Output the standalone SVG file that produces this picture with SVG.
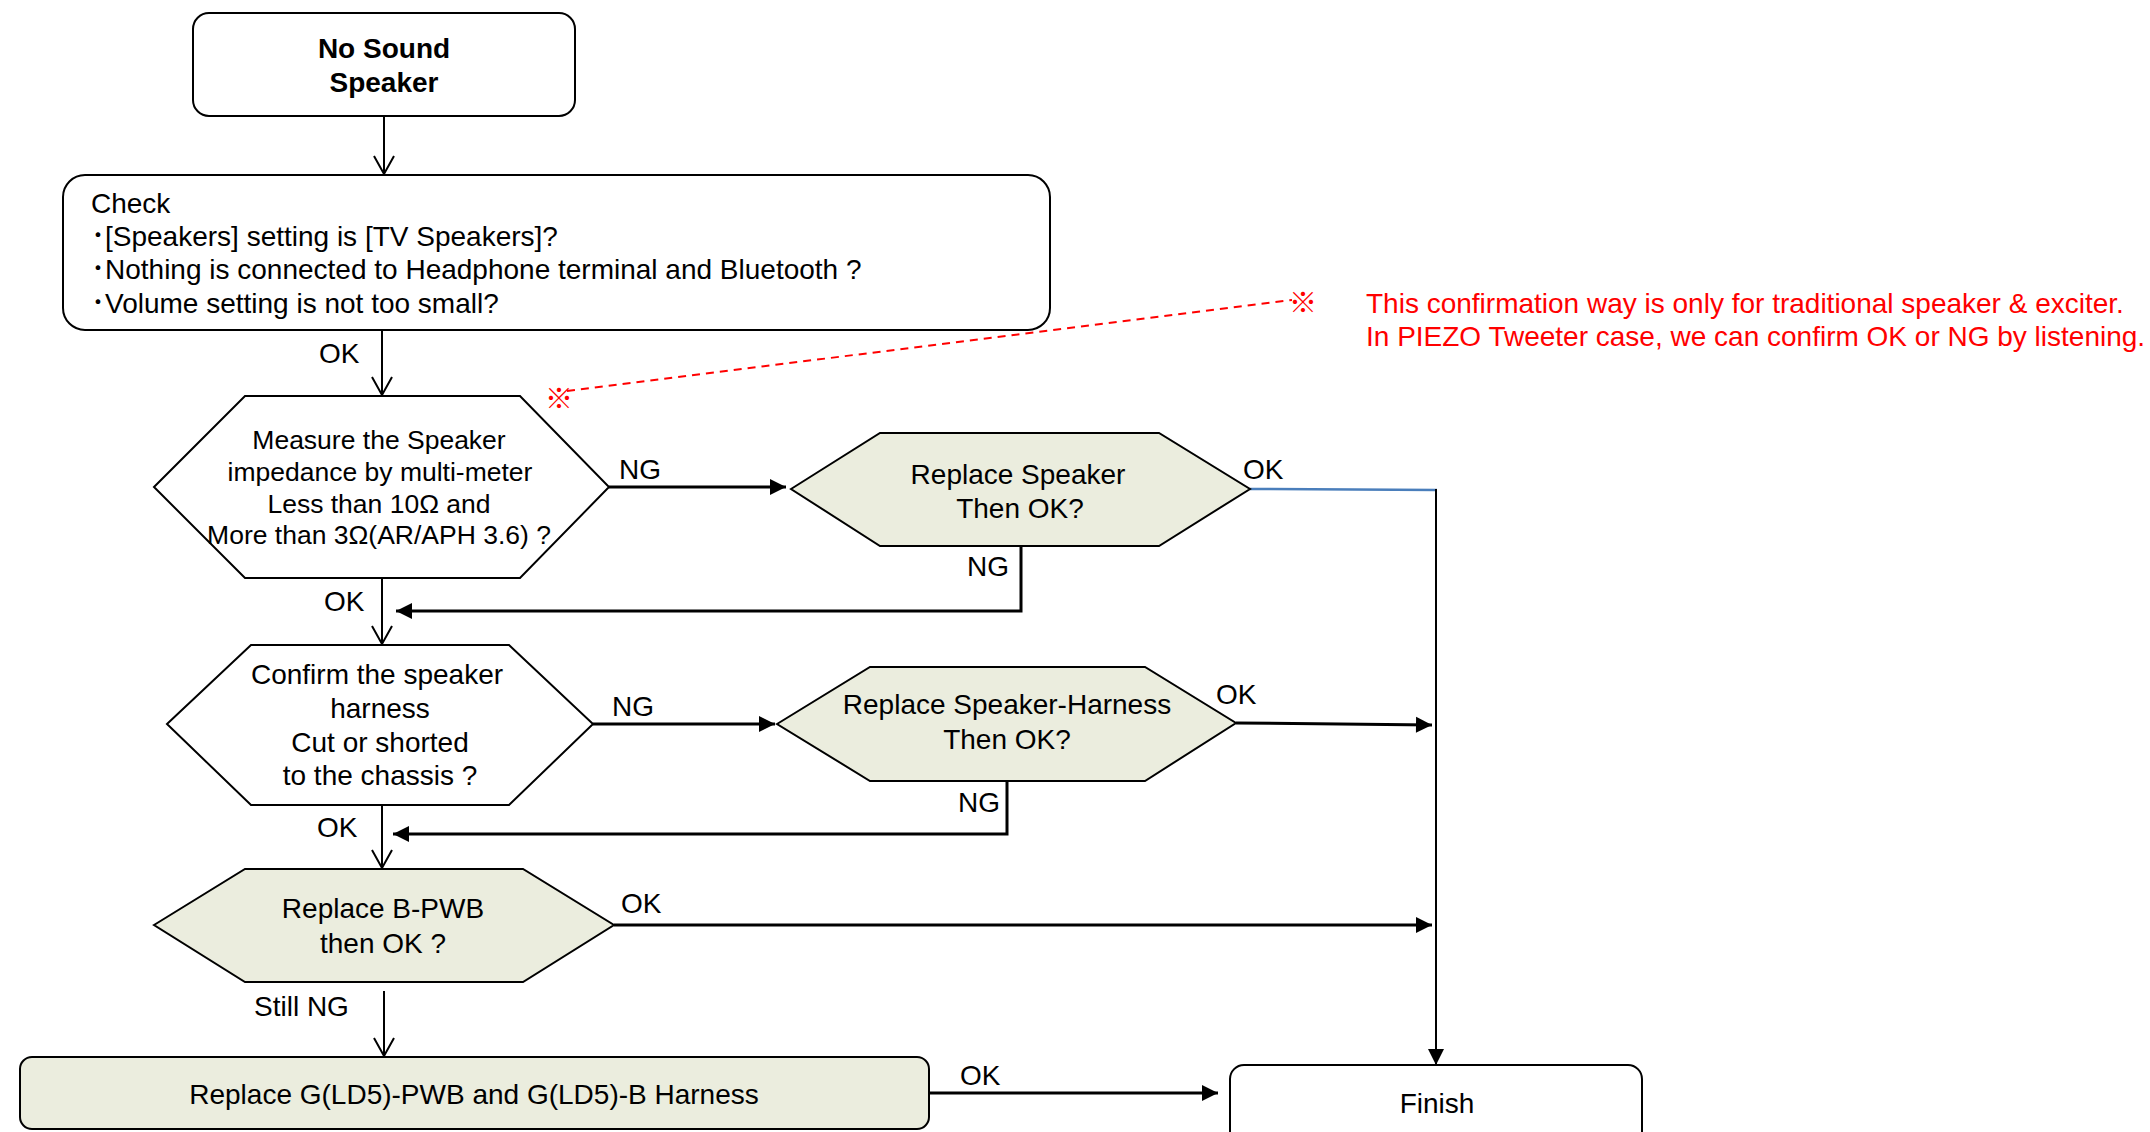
<svg xmlns="http://www.w3.org/2000/svg" width="2150" height="1132" viewBox="0 0 2150 1132">
<style>
text{font-family:"Liberation Sans","Noto Sans CJK JP",Arial,sans-serif;fill:#000;font-size:28px}
.c{text-anchor:middle}
.b{font-weight:bold}
.m{font-size:26.5px}
.red{fill:#FF0000}
.node{stroke:#000;stroke-width:2;fill:#fff}
.ol{fill:#EBEDDE}
.thin{stroke:#000;stroke-width:2;fill:none}
.thick{stroke:#000;stroke-width:3;fill:none}
</style>
<defs>
<marker id="open" markerUnits="userSpaceOnUse" markerWidth="22" markerHeight="24" refX="18" refY="10" orient="auto" overflow="visible">
<path d="M0,0 L18,10 L0,20" fill="none" stroke="#000" stroke-width="2"/>
</marker>
<marker id="fill" markerUnits="userSpaceOnUse" markerWidth="16" markerHeight="16" refX="16" refY="8" orient="auto" overflow="visible">
<path d="M0,0 L16,8 L0,16 z" fill="#000"/>
</marker>
</defs>
<rect width="2150" height="1132" fill="#fff"/>

<g id="connectors">
<line class="thin" x1="384" y1="117" x2="384" y2="174" marker-end="url(#open)"/>
<line class="thin" x1="382" y1="330" x2="382" y2="395" marker-end="url(#open)"/>
<line class="thick" x1="609" y1="487" x2="786" y2="487" marker-end="url(#fill)"/>
<polyline class="thick" points="1021,546 1021,611 396,611" marker-end="url(#fill)"/>
<line class="thin" x1="382" y1="578" x2="382" y2="644" marker-end="url(#open)"/>
<line class="thick" x1="593" y1="724" x2="775" y2="724" marker-end="url(#fill)"/>
<polyline class="thick" points="1007,781 1007,834 393,834" marker-end="url(#fill)"/>
<line class="thin" x1="382" y1="805" x2="382" y2="868" marker-end="url(#open)"/>
<line class="thick" x1="614" y1="925" x2="1432" y2="925" marker-end="url(#fill)"/>
<line class="thin" x1="384" y1="991" x2="384" y2="1056" marker-end="url(#open)"/>
<line class="thick" x1="929" y1="1093" x2="1218" y2="1093" marker-end="url(#fill)"/>
<line x1="1250" y1="489" x2="1437" y2="490" stroke="#4A7EBB" stroke-width="2.5"/>
<line class="thin" x1="1436" y1="489" x2="1436" y2="1065" marker-end="url(#fill)"/>
<line class="thick" x1="1236" y1="723" x2="1432" y2="725" marker-end="url(#fill)"/>
<line x1="567" y1="391" x2="1292" y2="300" stroke="#FF0000" stroke-width="2" stroke-dasharray="8,6"/>
<text x="319" y="363">OK</text>
<text x="619" y="479">NG</text>
<text x="1243" y="479">OK</text>
<text x="967" y="576">NG</text>
<text x="324" y="611">OK</text>
<text x="612" y="716">NG</text>
<text x="1216" y="704">OK</text>
<text x="958" y="812">NG</text>
<text x="317" y="837">OK</text>
<text x="621" y="913">OK</text>
<text x="254" y="1016">Still NG</text>
<text x="960" y="1085">OK</text>
</g>

<g id="start">
<rect class="node" x="193" y="13" width="382" height="103" rx="16"/>
<text class="c b" x="384" y="58">No Sound</text>
<text class="c b" x="384" y="92">Speaker</text>
</g>

<g id="check">
<rect class="node" x="63" y="175" width="987" height="155" rx="22"/>
<text x="91" y="213">Check</text>
<text x="91" y="246">･[Speakers] setting is [TV Speakers]?</text>
<text x="91" y="279">･Nothing is connected to Headphone terminal and Bluetooth ?</text>
<text x="91" y="313">･Volume setting is not too small?</text>
</g>

<g id="measure">
<polygon class="node" points="154,487 245,396 520,396 609,487 520,578 245,578"/>
<text class="c m" x="379" y="449">Measure the Speaker</text>
<text class="c m" x="380" y="481">impedance by multi-meter</text>
<text class="c m" x="379" y="513">Less than 10Ω and</text>
<text class="c m" x="379" y="544">More than 3Ω(AR/APH 3.6) ?</text>
</g>

<g id="replace-speaker">
<polygon class="node ol" points="791,489 880,433 1159,433 1250,489 1159,546 880,546"/>
<text class="c" x="1018" y="484">Replace Speaker</text>
<text class="c" x="1020" y="518">Then OK?</text>
</g>

<g id="confirm">
<polygon class="node" points="167,724 251,645 509,645 593,724 509,805 251,805"/>
<text class="c" x="377" y="684">Confirm the speaker</text>
<text class="c" x="380" y="718">harness</text>
<text class="c" x="380" y="752">Cut or shorted</text>
<text class="c" x="380" y="785">to the chassis ?</text>
</g>

<g id="replace-harness">
<polygon class="node ol" points="777,724 870,667 1145,667 1236,723 1145,781 870,781"/>
<text class="c" x="1007" y="714">Replace Speaker-Harness</text>
<text class="c" x="1007" y="749">Then OK?</text>
</g>

<g id="replace-bpwb">
<polygon class="node ol" points="154,925 245,869 523,869 614,925 523,982 245,982"/>
<text class="c" x="383" y="918">Replace B-PWB</text>
<text class="c" x="383" y="953">then OK ?</text>
</g>

<g id="replace-g">
<rect class="node ol" x="20" y="1057" width="909" height="72" rx="12"/>
<text class="c" x="474" y="1104">Replace G(LD5)-PWB and G(LD5)-B Harness</text>
</g>

<g id="finish">
<rect class="node" x="1230" y="1065" width="412" height="90" rx="14"/>
<text class="c" x="1437" y="1113">Finish</text>
</g>

<g id="note">
<text class="red c" x="559" y="409" font-size="30">※</text>
<text class="red c" x="1303" y="313" font-size="30">※</text>
<text class="red" x="1366" y="313">This confirmation way is only for traditional speaker &amp; exciter.</text>
<text class="red" x="1366" y="346">In PIEZO Tweeter case, we can confirm OK or NG by listening.</text>
</g>
</svg>
